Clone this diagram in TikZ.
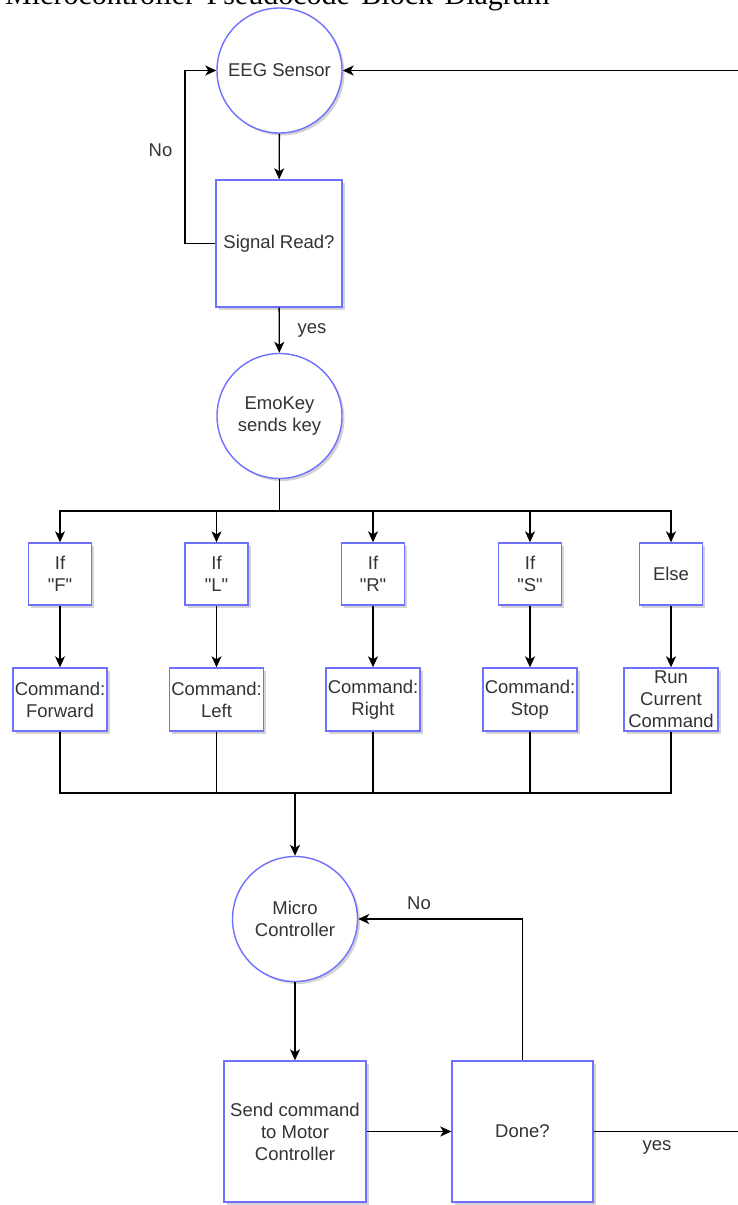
\documentclass[tikz,border=0pt]{standalone}
\usepackage{fontspec}
\setmainfont{Liberation Sans}
\newfontfamily\titlefont{Liberation Serif}
\usetikzlibrary{arrows.meta,shadows}

\definecolor{edgeblue}{RGB}{112,112,255}
\definecolor{txtgray}{RGB}{51,51,51}

\newcommand{\qk}[1]{\textquotedbl#1\textquotedbl}

\tikzset{
  base/.style={draw=edgeblue, line width=1.4pt, fill=white, inner sep=0pt,
    align=center, text=txtgray, font=\fontsize{18.5}{22}\selectfont,
    drop shadow={shadow xshift=2.5pt, shadow yshift=-2.5pt, opacity=0.35, fill=gray}},
  circ/.style={base, circle, minimum size=125pt},
  boxnode/.style={base, rectangle},
  ifbox/.style={boxnode, minimum width=63pt, minimum height=62pt},
  cmdbox/.style={boxnode, minimum width=94pt, minimum height=63pt},
  bigbox/.style={boxnode, minimum width=141pt, minimum height=141pt},
  lbl/.style={inner sep=0pt, text=txtgray, font=\fontsize{18.5}{22}\selectfont},
  conn/.style={line width=1.4pt, draw=black},
  arr/.style={conn, -{Stealth[length=11pt, width=10pt, inset=3pt]}}
}

\begin{document}
\begin{tikzpicture}[x=1pt, y=-1pt]
  \path[use as bounding box] (0,0) rectangle (738,1205);
  \clip (0,0) rectangle (738,1205);

  % heading, cut by the top edge of the page
  \node[anchor=base west, inner sep=0pt, font=\titlefont\fontsize{30}{34}\selectfont]
    (title) at (5,4.5) {\spaceskip=11.5pt Microcontroller Pseudocode Block Diagram};

  % upper part: sensor and signal check
  \node[circ] (eeg) at (279.5,70.5) {EEG Sensor};
  \node[boxnode, minimum width=126pt, minimum height=127pt] (sig) at (279,243.5) {Signal Read?};
  \node[circ] (emo) at (279.5,416) {EmoKey\\sends key};

  % key tests
  \node[ifbox] (ifF) at (60,574) {If\\\qk{F}};
  \node[ifbox] (ifL) at (216.5,574) {If\\\qk{L}};
  \node[ifbox] (ifR) at (373,574) {If\\\qk{R}};
  \node[ifbox] (ifS) at (530,574) {If\\\qk{S}};
  \node[ifbox] (ifE) at (671,574) {Else};

  % commands
  \node[cmdbox] (cmdF) at (60,699.5) {Command:\\Forward};
  \node[cmdbox] (cmdL) at (216.5,699.5) {Command:\\Left};
  \node[cmdbox] (cmdR) at (373,699.5) {Command:\\Right};
  \node[cmdbox] (cmdS) at (530,699.5) {Command:\\Stop};
  \node[cmdbox] (cmdE) at (671,699.5) {Run\\Current\\Command};

  % lower part: controller loop
  \node[circ] (micro) at (295,919) {Micro\\Controller};
  \node[bigbox, minimum width=142pt] (send) at (295,1131.5) {Send command\\to Motor\\Controller};
  \node[bigbox] (done) at (522.5,1131.5) {Done?};

  % routing points
  \coordinate (lc) at (185,243.5);
  \coordinate (bus) at (279.5,511);
  \coordinate (bus2) at (295,793);
  \coordinate (rc) at (748,1131.5);

  % connectors
  \draw[arr] (eeg) -- (sig);
  \draw[arr] (sig.west) -- (lc) |- (eeg.west);
  \draw[arr] (sig) -- (emo);
  \draw[conn] (emo.south) -- (bus);
  \foreach \n in {ifF,ifL,ifR,ifS,ifE} {
    \draw[arr] (bus) -| (\n.north);
  }
  \draw[arr] (ifF) -- (cmdF);
  \draw[arr] (ifL) -- (cmdL);
  \draw[arr] (ifR) -- (cmdR);
  \draw[arr] (ifS) -- (cmdS);
  \draw[arr] (ifE) -- (cmdE);
  \foreach \n in {cmdF,cmdL,cmdR,cmdS,cmdE} {
    \draw[conn] (\n.south) |- (bus2);
  }
  \draw[arr] (bus2) -- (micro.north);
  \draw[arr] (micro) -- (send);
  \draw[arr] (send) -- (done);
  \draw[arr] (done.north) |- (micro.east);
  \draw[arr] (done.east) -- (rc) |- (eeg.east);

  % branch labels
  \node[lbl] (noA) at (160.5,150) {No};
  \node[lbl] (yesA) at (312,330) {yes};
  \node[lbl] (noB) at (419,903) {No};
  \node[lbl] (yesB) at (657,1147) {yes};
\end{tikzpicture}
\end{document}
